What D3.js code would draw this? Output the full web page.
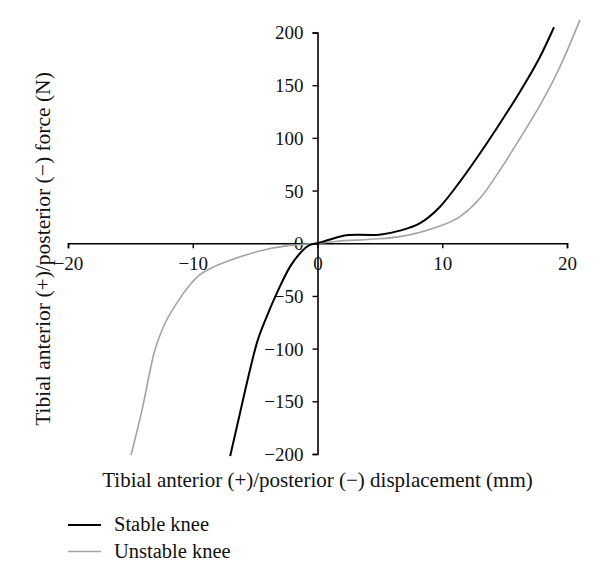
<!DOCTYPE html>
<html>
<head>
<meta charset="utf-8">
<script src="https://cdn.jsdelivr.net/npm/d3@7"></script>
<style>
  html, body { margin: 0; padding: 0; background: #fff; }
  svg { display: block; font-family: "Liberation Serif", "Times New Roman", serif; }
</style>
</head>
<body>
<svg id="chart" width="600" height="584"></svg>
<script>
// ---- Data ----
const stableX = [-7.0, -6.21, -5.41, -4.87, -4.07, -3.14, -2.2, -1.4, -0.6, 0, 0.6, 1.07, 1.6, 2.5, 3.2, 4.3, 5.1, 6.61, 8.22, 9.82, 11.42, 13.03, 14.63, 16.23, 17.84, 18.96];
const stableY = [-202, -161, -120, -95, -69.6, -44.3, -22.2, -9.5, -1.6, 0, 2.2, 3.8, 5.7, 7.8, 8.0, 7.9, 8.4, 12, 19, 34.7, 58.5, 85.4, 113.9, 143.8, 177, 205];
const unstableX = [-14.95, -14.1, -13.07, -12.4, -11.2, -9.5, -8.54, -6.94, -4.8, -3.7, -2.5, -1.2, 0, 1.6, 4.26, 6.61, 9.28, 11.42, 13.03, 14.63, 16.23, 17.84, 19.44, 21.04];
const unstableY = [-201, -160, -103, -80.7, -55.4, -30.5, -23.8, -15.9, -7.9, -4.8, -2.5, -1.0, 0, 1.9, 3.8, 6.3, 14.2, 25.2, 42.7, 69.5, 99.6, 131, 167.6, 212];
const xTicks = [-20, -10, 0, 10, 20];
const yTicks = [-200, -150, -100, -50, 0, 50, 100, 150, 200];
const seriesNames = ["Stable knee", "Unstable knee"];
const seriesColors = ["#000000", "#a3a3a3"];
const xTitle = "Tibial anterior (+)/posterior (\u2212) displacement (mm)";
const yTitle = "Tibial anterior (+)/posterior (\u2212) force (N)";

// ---- Drawing ----
const svg = d3.select("#chart");
const x = d3.scaleLinear().domain([-20, 20]).range([68, 567]);
const y = d3.scaleLinear().domain([-200, 200]).range([454, 32.5]);
const fmt = d => d < 0 ? "\u2212" + Math.abs(d) : String(d);

// X axis through y=0
const xAxis = svg.append("g")
  .attr("transform", `translate(0,${y(0)})`)
  .call(d3.axisBottom(x).tickValues(xTicks).tickSize(5).tickPadding(8).tickFormat(fmt));
// Y axis through x=0
const yAxis = svg.append("g")
  .attr("transform", `translate(${x(0)},0)`)
  .call(d3.axisLeft(y).tickValues(yTicks).tickSize(5).tickPadding(9).tickFormat(fmt));

[xAxis, yAxis].forEach(g => {
  g.select(".domain").attr("stroke", "#000").attr("stroke-width", 1.6);
  g.selectAll(".tick line").attr("stroke", "#000").attr("stroke-width", 1.4);
  g.selectAll(".tick text")
    .attr("fill", "#111")
    .style("font-family", "'Liberation Serif', serif")
    .style("font-size", "19px");
});
yAxis.selectAll(".tick text").attr("dy", "0.34em");

// Lines
const line = d3.line().x(d => x(d[0])).y(d => y(d[1])).curve(d3.curveMonotoneX);
const unstable = unstableX.map((v, i) => [v, unstableY[i]]);
const stable = stableX.map((v, i) => [v, stableY[i]]);

svg.append("path").datum(unstable)
  .attr("fill", "none").attr("stroke", seriesColors[1]).attr("stroke-width", 1.6)
  .attr("d", line);
svg.append("path").datum(stable)
  .attr("fill", "none").attr("stroke", seriesColors[0]).attr("stroke-width", 2)
  .attr("d", line);

// Axis titles
svg.append("text")
  .attr("x", x(0)).attr("y", 487)
  .attr("text-anchor", "middle")
  .attr("fill", "#111")
  .style("font-size", "21px")
  .text(xTitle);

svg.append("text")
  .attr("transform", "translate(50,249) rotate(-90)")
  .attr("text-anchor", "middle")
  .attr("fill", "#111")
  .style("font-size", "21.5px")
  .text(yTitle);

// Legend
const legendY = [525, 551.5];
seriesNames.forEach((name, i) => {
  svg.append("line")
    .attr("x1", 68).attr("x2", 101)
    .attr("y1", legendY[i]).attr("y2", legendY[i])
    .attr("stroke", seriesColors[i]).attr("stroke-width", i === 0 ? 2 : 1.6);
  svg.append("text")
    .attr("x", 114).attr("y", legendY[i] + 6)
    .attr("fill", "#111")
    .style("font-size", "20.5px")
    .text(name);
});
</script>
</body>
</html>
